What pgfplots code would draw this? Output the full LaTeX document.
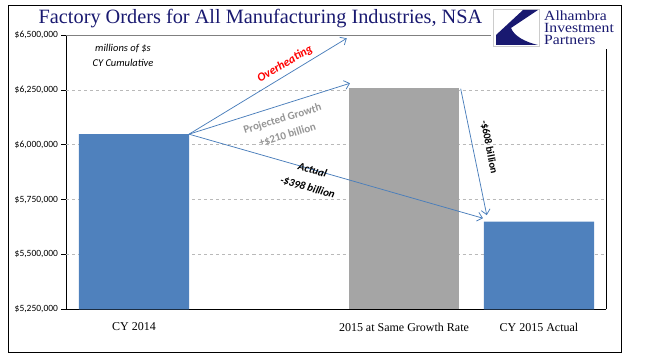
\documentclass[border=0pt]{standalone}
\usepackage{fontspec}
\setmainfont{Carlito}
\newfontfamily\serif{Liberation Serif}
\newfontfamily\logofont[FakeStretch=1.12]{Liberation Serif}
\usepackage{pgfplots}
\pgfplotsset{compat=1.18}
\usetikzlibrary{arrows.meta}
\definecolor{barblue}{HTML}{4F81BD}
\definecolor{bargray}{HTML}{A5A5A5}
\definecolor{arrowblue}{HTML}{4A7EBB}
\definecolor{navy}{RGB}{25,25,112}
\definecolor{projgray}{HTML}{959595}
\begin{document}
\begin{tikzpicture}[x=1pt,y=1pt]
\begin{axis}[
  name=ax, scale only axis,
  width=540pt, height=274.3pt,
  xmin=-0.5, xmax=3.5, ymin=5250000, ymax=6500000,
  axis x line*=bottom, axis y line*=left,
  axis line style={black, line width=0.8pt, -},
  xtick={0,2,3},
  xticklabels={CY 2014, 2015 at Same Growth Rate, CY 2015 Actual},
  x tick label style={font=\serif\fontsize{12}{14}\selectfont, yshift=-5pt},
  major x tick style={draw=none},
  ytick={5250000,5500000,5750000,6000000,6250000,6500000},
  yticklabels={{\$5,250,000},{\$5,500,000},{\$5,750,000},{\$6,000,000},{\$6,250,000},{\$6,500,000}},
  y tick label style={font=\fontsize{9.5}{11}\selectfont, xshift=0pt},
  scaled y ticks=false,
  tick align=outside, major tick length=5pt, ytick pos=left,
  major y tick style={black, line width=0.6pt},
  extra y ticks={5500000,5750000,6000000,6250000},
  extra y tick labels={},
  extra y tick style={grid=major, major tick length=0pt},
  grid style={gray!55, dashed, line width=0.5pt},
]
\addplot[ybar, bar width=0.815, bar shift=0pt, fill=barblue, draw=none]
  coordinates {(0,6048000) (3,5650000)};
\addplot[ybar, bar width=0.815, bar shift=0pt, fill=bargray, draw=none]
  coordinates {(2,6258000)};
\draw[arrowblue, line width=0.75pt, -{Straight Barb[length=5pt,width=9pt]}]
  (axis cs:0.4075,6048000) -- (axis cs:1.576,6485000);
\draw[arrowblue, line width=0.75pt, -{Straight Barb[length=5pt,width=9pt]}]
  (axis cs:0.4075,6048000) -- (axis cs:1.600,6280000);
\draw[arrowblue, line width=0.75pt, -{Straight Barb[length=5pt,width=9pt]}]
  (axis cs:0.4075,6048000) -- (axis cs:2.585,5665000);
\draw[arrowblue, line width=0.75pt, -{Straight Barb[length=5pt,width=9pt]}]
  (axis cs:2.42,6255000) -- (axis cs:2.613,5679000);
\coordinate (O) at (rel axis cs:0,0);
\end{axis}
\begin{scope}[shift={(O)}, xshift=-66.5pt, yshift=-48.7pt]
\pgfresetboundingbox
\useasboundingbox (0,0) rectangle (649,358);
\draw[line width=0.9pt] (8,6) rectangle (621,353);
% plot frame pieces
\draw[gray, line width=0.8pt] (66.5,323) -- (491,323);
\draw[black, line width=0.8pt] (606.5,48.7) -- (606.5,309);
% title
\node[font=\serif\fontsize{20.3}{24}\selectfont, text=navy, anchor=base] at (260.5,334) {Factory Orders for All Manufacturing Industries, NSA};
% logo
\draw[gray!40, fill=white, line width=0.6pt] (493,312) rectangle (539,349);
\fill[navy] (523,348) -- (538,348) -- (511,330) .. controls (514,322) and (525,316) .. (538,313) -- (496,313) -- (496,323) -- cycle;
\node[font=\logofont\fontsize{14}{14}\selectfont, text=navy, anchor=base west, inner sep=0pt] at (544,337) {Alhambra};
\node[font=\logofont\fontsize{14}{14}\selectfont, text=navy, anchor=base west, inner sep=0pt] at (544,325) {Investment};
\node[font=\logofont\fontsize{14}{14}\selectfont, text=navy, anchor=base west, inner sep=0pt] at (544,313) {Partners};
% annotations
\node[font=\itshape\fontsize{10.5}{15}\selectfont, align=center] at (123,302.5) {millions of \$s\\CY Cumulative};
\node[font=\bfseries\itshape\fontsize{12}{14}\selectfont, text=red, rotate=31] at (285,294) {Overheating};
\node[font=\bfseries\fontsize{11}{17}\selectfont, text=projgray, rotate=17, align=center] at (285,231) {Projected Growth\\+\$210 billion};
\node[font=\bfseries\itshape\fontsize{11}{18}\selectfont, rotate=-16, align=center] at (310,179) {Actual\\-\$398 billion};
\node[font=\bfseries\fontsize{10.5}{12}\selectfont, rotate=-79] at (489,211) {-\$608 billion};
\end{scope}
\end{tikzpicture}
\end{document}
